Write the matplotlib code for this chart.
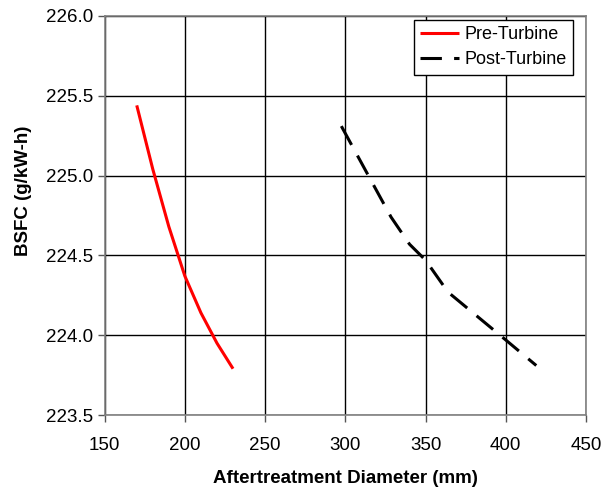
import matplotlib
matplotlib.use("Agg")
import matplotlib.pyplot as plt

# BSFC vs aftertreatment diameter, pre- and post-turbine placement
pre_diameter = [170, 180, 190, 200, 210, 220, 230]
pre_bsfc = [225.44, 225.04, 224.68, 224.37, 224.14, 223.95, 223.79]

post_diameter = [297.5, 328.5, 340, 350, 364, 400, 419]
post_bsfc = [225.31, 224.74, 224.57, 224.47, 224.27, 223.97, 223.81]

x_ticks = [150, 200, 250, 300, 350, 400, 450]
y_ticks = [223.5, 224.0, 224.5, 225.0, 225.5, 226.0]

plt.rcParams['font.family'] = ['Liberation Sans', 'DejaVu Sans']

fig = plt.figure(figsize=(6.05, 4.92), dpi=100)
ax = fig.add_axes([0.173, 0.1565, 0.7956, 0.811])

ax.plot(pre_diameter, pre_bsfc, color='#ff0000', linewidth=2.2, label='Pre-Turbine',
        solid_capstyle='butt')
ax.plot(post_diameter, post_bsfc, color='black', linewidth=2.2, dashes=(7, 4),
        label='Post-Turbine', dash_capstyle='butt')

ax.set_xlim(150, 450)
ax.set_ylim(223.5, 226.0)
ax.set_xticks(x_ticks)
ax.set_yticks(y_ticks)
ax.set_yticklabels(["{:.1f}".format(v) for v in y_ticks])
ax.grid(True, color='black', linewidth=1.0)
ax.set_axisbelow(True)
ax.tick_params(direction='out', length=5, width=1, color='#555555', labelsize=13.5)
ax.tick_params(axis='x', pad=11)
ax.tick_params(axis='y', pad=3.5)
for spine in ax.spines.values():
    spine.set_color('#808080')
    spine.set_linewidth(1.2)

ax.set_xlabel("Aftertreatment Diameter (mm)", fontsize=13.5, fontweight='bold', labelpad=11)
ax.set_ylabel("BSFC (g/kW-h)", fontsize=13.5, fontweight='bold')
ax.yaxis.set_label_coords(-0.15, 0.561)

leg = ax.legend(loc='upper right', bbox_to_anchor=(0.973, 0.99), fontsize=13,
                fancybox=False, framealpha=1, edgecolor='black', borderaxespad=0,
                handlelength=2.15, handletextpad=0.3, borderpad=0.35, labelspacing=0.45)
leg.get_frame().set_linewidth(1.0)

fig.savefig("out.png", dpi=100)
